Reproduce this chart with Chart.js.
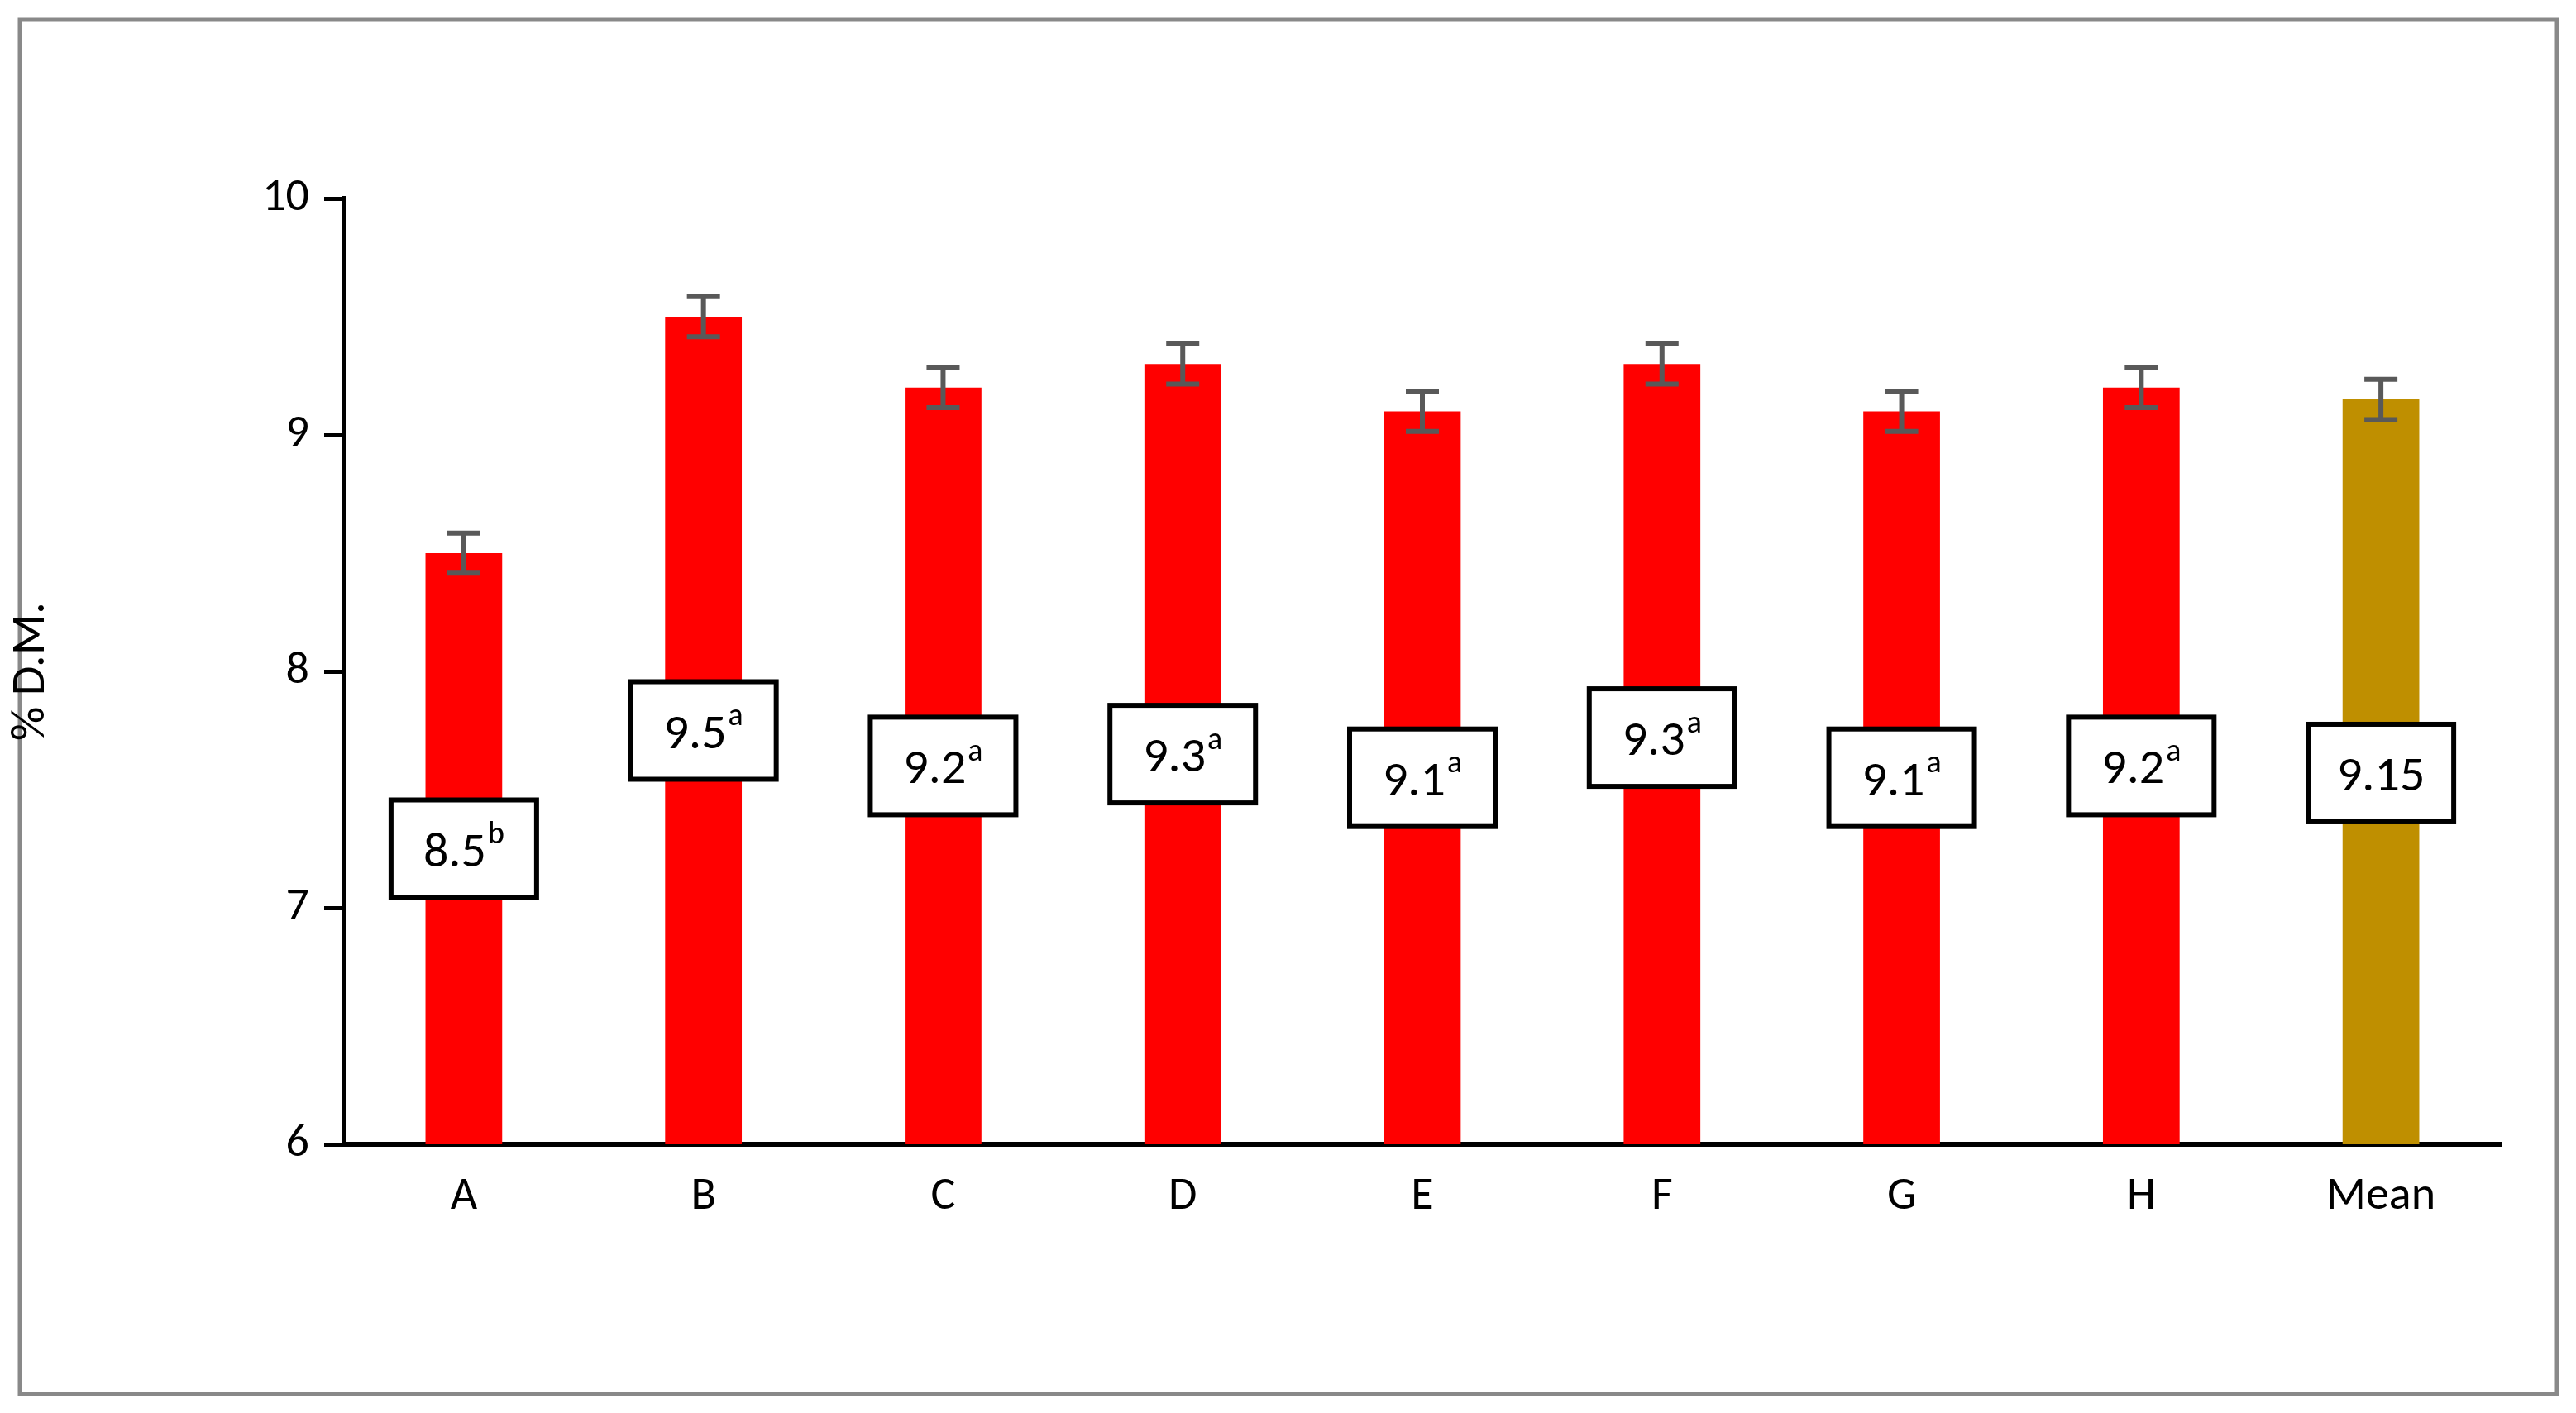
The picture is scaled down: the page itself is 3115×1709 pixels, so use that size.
<!DOCTYPE html>
<html>
<head>
<meta charset="utf-8">
<script src="https://cdn.jsdelivr.net/npm/chart.js@4"></script>
<style>
html, body { margin: 0; padding: 0; background: #fff; }
#wrap { width: 3115px; height: 1709px; }
</style>
</head>
<body>
<div id="wrap"><canvas id="myChart"></canvas></div>
<script>
// data
var categories = ["A", "B", "C", "D", "E", "F", "G", "H", "Mean"];
var values = [8.5, 9.5, 9.2, 9.3, 9.1, 9.3, 9.1, 9.2, 9.15];
var errors = [0.085, 0.085, 0.085, 0.085, 0.085, 0.085, 0.085, 0.085, 0.085];
var letters = ["b", "a", "a", "a", "a", "a", "a", "a", ""];
var labelPos = [7.25, 7.75, 7.6, 7.65, 7.55, 7.72, 7.55, 7.6, 7.57];
var yTicks = [6, 7, 8, 9, 10];

var barColors = categories.map(function (c) { return c == "Mean" ? "#BF8F00" : "#FF0000"; });
var FONT = "Calibri, Carlito, 'Liberation Sans', 'DejaVu Sans', sans-serif";

var extras = {
    id: "extras",
    beforeDraw: function (chart) {
        var ctx = chart.ctx;
        ctx.save();
        ctx.fillStyle = "#fff";
        ctx.fillRect(0, 0, chart.width, chart.height);
        ctx.strokeStyle = "#898989";
        ctx.lineWidth = 5;
        ctx.strokeRect(24, 24, 3068, 1662);
        ctx.restore();
    },
    afterDatasetsDraw: function (chart) {
        var ctx = chart.ctx;
        var meta = chart.getDatasetMeta(0);
        var y = chart.scales.y;
        ctx.save();
        for (var i = 0; i < values.length; i++) {
            var x = meta.data[i].x;
            // error bar
            var top = y.getPixelForValue(values[i] + errors[i]);
            var bot = y.getPixelForValue(values[i] - errors[i]);
            ctx.strokeStyle = "#595959";
            ctx.lineWidth = 6;
            ctx.beginPath();
            ctx.moveTo(x, top); ctx.lineTo(x, bot);
            ctx.moveTo(x - 20, top); ctx.lineTo(x + 20, top);
            ctx.moveTo(x - 20, bot); ctx.lineTo(x + 20, bot);
            ctx.stroke();
            // label box
            var cy = y.getPixelForValue(labelPos[i]);
            var w = 176, h = 118;
            ctx.fillStyle = "#fff";
            ctx.fillRect(x - w / 2, cy - h / 2, w, h);
            ctx.strokeStyle = "#000";
            ctx.lineWidth = 6;
            ctx.strokeRect(x - w / 2, cy - h / 2, w, h);
            var main = values[i].toString();
            ctx.font = "60px " + FONT;
            var mw = ctx.measureText(main).width;
            ctx.font = "38px " + FONT;
            var sw = letters[i] ? ctx.measureText(letters[i]).width + 2 : 0;
            var sx = x - (mw + sw) / 2;
            ctx.fillStyle = "#000";
            ctx.textBaseline = "middle";
            ctx.textAlign = "left";
            ctx.font = "60px " + FONT;
            ctx.fillText(main, sx, cy + 6);
            if (letters[i]) {
                ctx.font = "38px " + FONT;
                ctx.fillText(letters[i], sx + mw + 2, cy - 16);
            }
        }
        ctx.restore();
    }
};

new Chart(document.getElementById("myChart").getContext("2d"), {
    type: "bar",
    data: {
        labels: categories,
        datasets: [{
            data: values,
            backgroundColor: barColors,
            barPercentage: 0.64,
            categoryPercentage: 0.5
        }]
    },
    options: {
        responsive: true,
        maintainAspectRatio: false,
        animation: false,
        devicePixelRatio: 1,
        layout: { padding: { top: 240, right: 91, bottom: 110, left: 0 } },
        plugins: { legend: { display: false }, tooltip: { enabled: false } },
        scales: {
            x: {
                grid: { display: false, drawTicks: false },
                border: { color: "#000", width: 6 },
                ticks: { color: "#000", font: { size: 56, family: FONT }, padding: 30 },
                afterFit: function (s) { s.height = 215; }
            },
            y: {
                min: 6, max: 10,
                afterBuildTicks: function (s) { s.ticks = yTicks.map(function (v) { return { value: v }; }); },
                grid: { drawOnChartArea: false, color: "#000", lineWidth: 5, tickLength: 24 },
                border: { color: "#000", width: 6 },
                ticks: { color: "#000", font: { size: 56, family: FONT }, padding: 18 },
                title: { display: true, text: "% D.M.", color: "#000", font: { size: 58, family: FONT }, padding: { bottom: 80 } },
                afterFit: function (s) { s.width = 416; }
            }
        }
    },
    plugins: [extras]
});
</script>
</body>
</html>
